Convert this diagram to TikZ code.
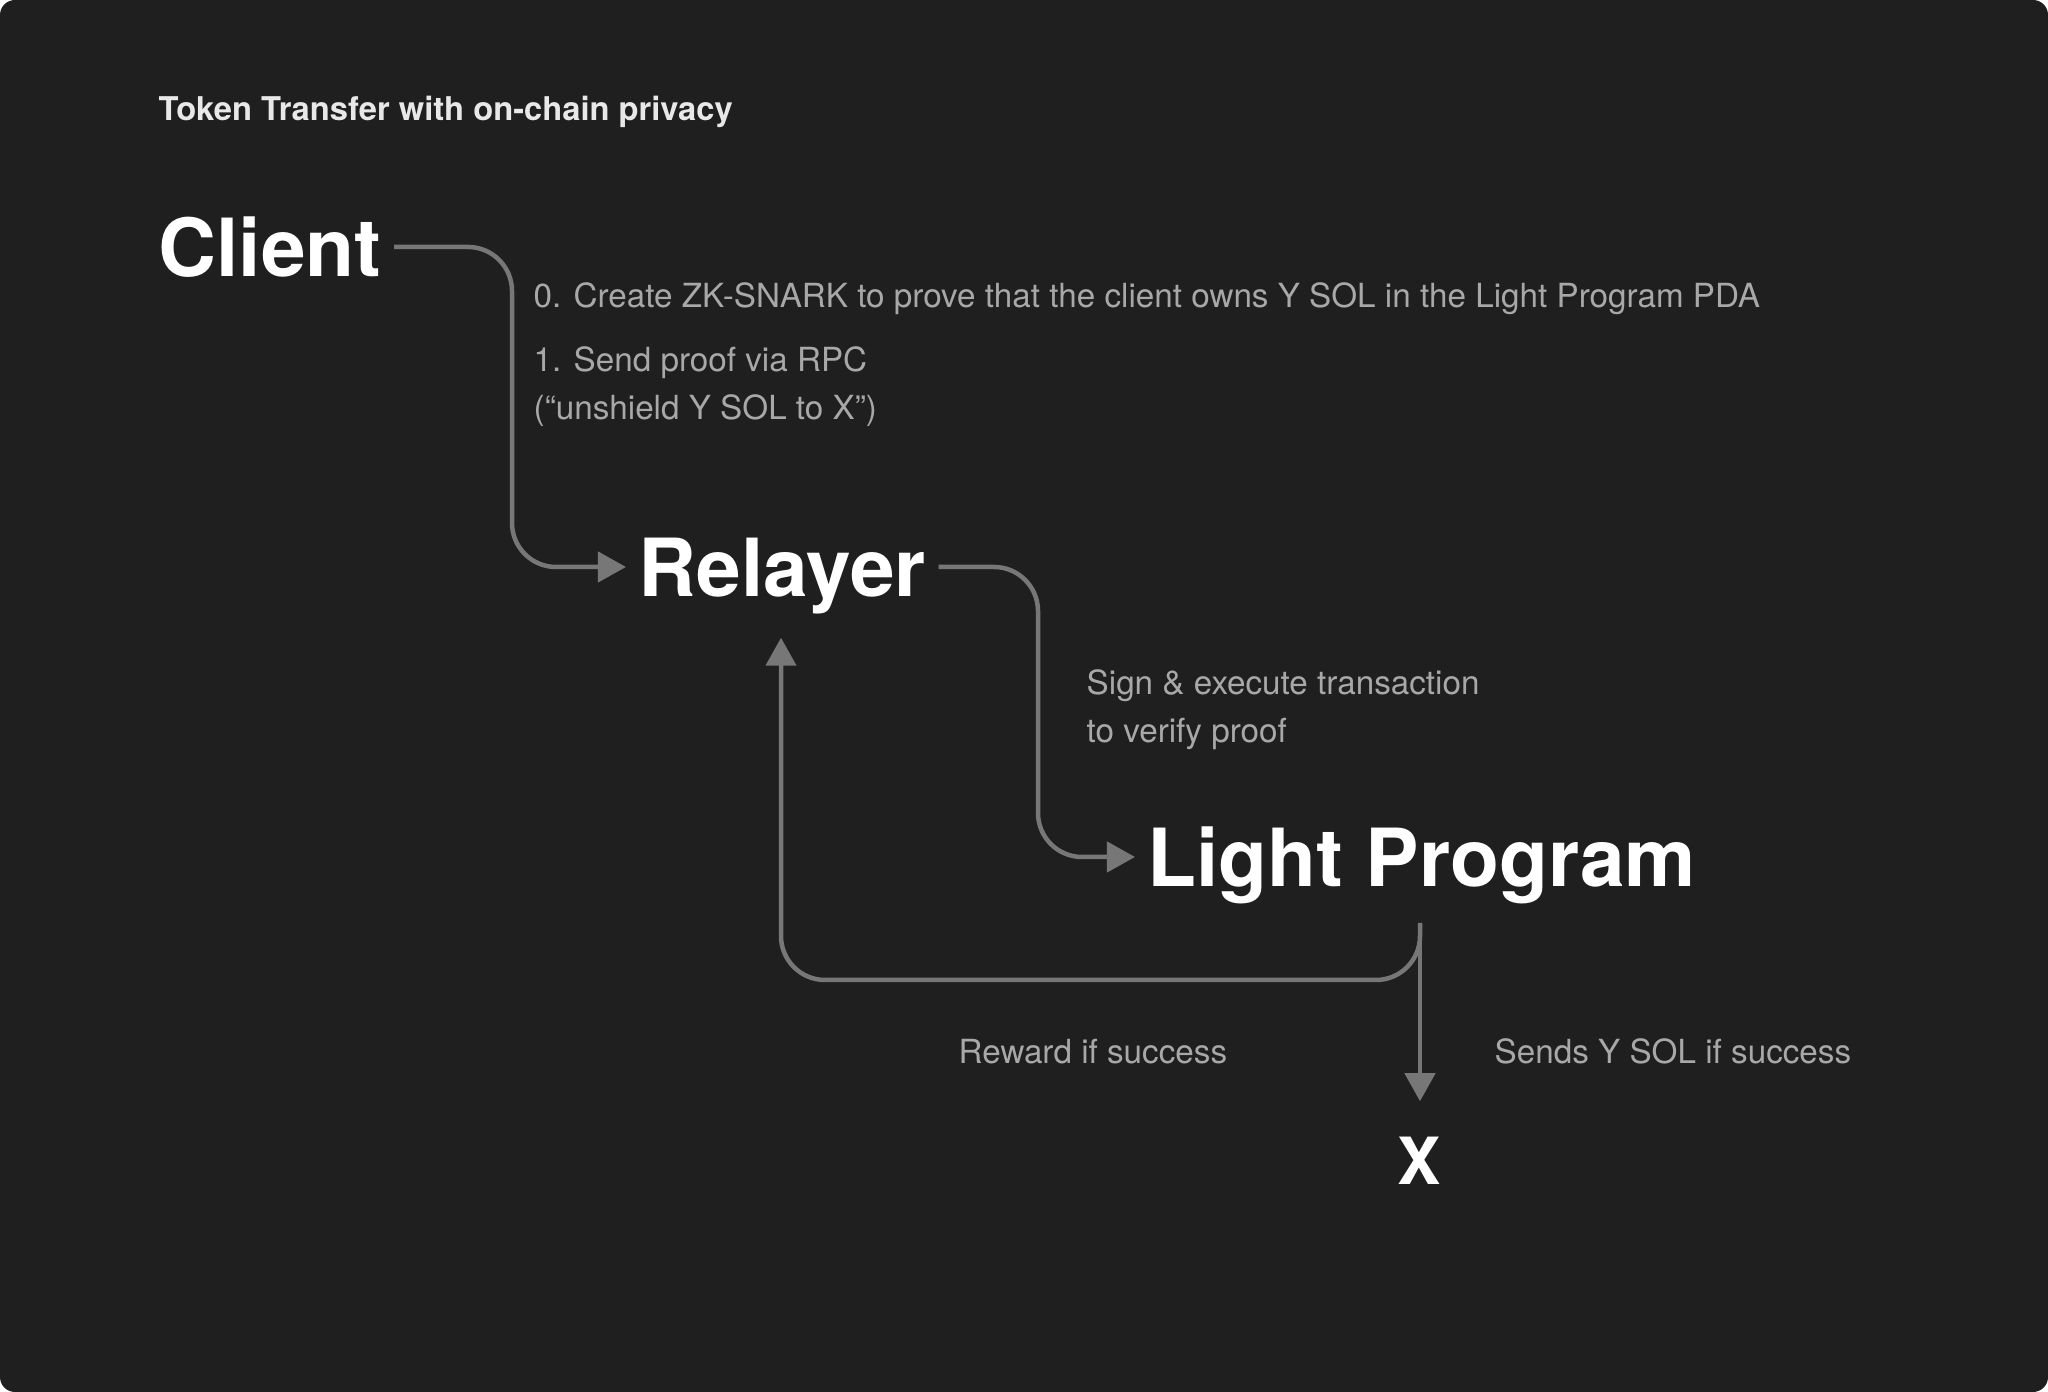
\documentclass[tikz,border=0pt]{standalone}
\usepackage{fontspec}
\setmainfont{TeX Gyre Heros}
\usetikzlibrary{arrows.meta}

\definecolor{bg}{HTML}{1F1F1F}
\definecolor{wire}{HTML}{777777}
\definecolor{note}{HTML}{A8A8A8}
\definecolor{head}{HTML}{E8E8E8}

\tikzset{
  actor/.style={anchor=base west, inner sep=0pt, text=white, text height=0.6cm, text depth=0pt,
    font=\fontsize{22.8}{27}\selectfont\bfseries},
  note/.style={anchor=base west, inner sep=0pt, text=note, font=\fontsize{9.45}{12}\selectfont},
  flow/.style={draw=wire, line width=0.045cm, rounded corners=0.44cm,
    -{Triangle[length=0.28cm, width=0.3cm]}, shorten <=0.12cm, shorten >=0.12cm}
}

\begin{document}
\begin{tikzpicture}[x=0.01cm, y=-0.01cm]

    \fill[white] (0, 0) rectangle (2048, 1392);
    \fill[bg, rounded corners=0.15cm] (0, 0) rectangle (2048, 1392);

    \node[anchor=base west, inner sep=0pt, text=head, font=\fontsize{9.3}{12}\selectfont\bfseries] (title) at (158, 121) {Token Transfer with on-chain privacy};

    \node[actor] (client) at (158, 277) {Client};
    \node[actor] (relayer) at (638, 597) {Relayer};
    \node[actor] (lp) at (1147, 887) {Light Program};
    \node[actor, text height=0.47cm, font=\fontsize{18.5}{22}\selectfont\bfseries] (x) at (1397, 1185) {X};

    \coordinate (bend1) at (512, 567);
    \coordinate (bend2) at (1038, 857);
    \coordinate (bend3) at (781, 980);
    \coordinate (split) at (1420, 923);

    \draw [flow] (client.east) -| (bend1) -- (relayer.west);
    \draw [flow] (relayer.east) -| (bend2) -- (lp.west);
    \draw [flow, shorten <=0pt, shorten >=0.36cm] (split) -- (split |- x.north);
    \draw [flow, shorten <=0pt, shorten >=0.40cm] (split) |- (bend3) -- (bend3 |- relayer.south);

    \node[note] (n0) at (533, 308) {0. Create ZK-SNARK to prove that the client owns Y SOL in the Light Program PDA};
    \node[note] (n1) at (533, 372) {1. Send proof via RPC};
    \node[note] (n1b) at (533, 420) {(“unshield Y SOL to X”)};
    \node[note] (n2) at (1086, 695) {Sign \& execute transaction};
    \node[note] (n2b) at (1086, 743) {to verify proof};
    \node[note] (n3) at (958, 1064) {Reward if success};
    \node[note] (n4) at (1494, 1064) {Sends Y SOL if success};

\end{tikzpicture}
\end{document}
